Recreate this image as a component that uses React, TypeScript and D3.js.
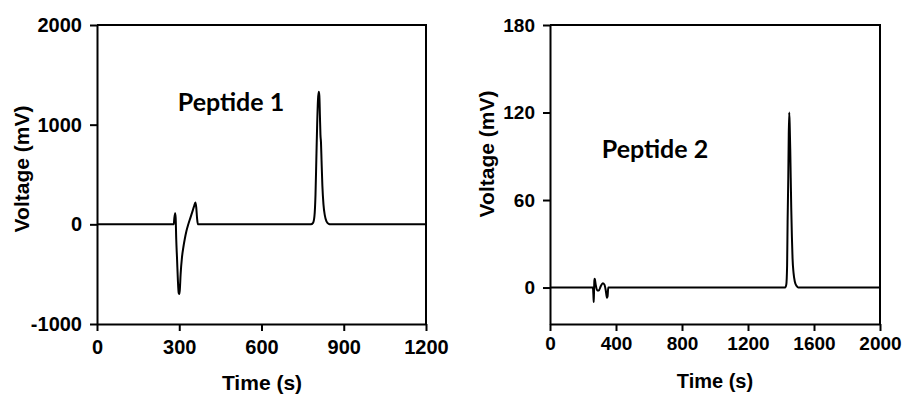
import React, { useRef, useEffect } from 'react';
import * as d3 from 'd3';

// Peptide 1 trace: [time (s), voltage (mV)]
const peptide1: [number, number][] = [
  [0, 0], [270, 0], [280, 0], [282, 60], [285, 110], [287, 60], [289, -150],
  [292, -350], [295, -560], [298, -690], [300, -700], [302, -660], [305, -500],
  [310, -330], [315, -230], [320, -150], [326, -70], [333, 0], [340, 60],
  [347, 120], [354, 180], [359, 220], [362, 170], [365, 60], [368, 0],
  [780, 0], [788, 15], [793, 80], [797, 300], [800, 650], [803, 1000],
  [806, 1250], [809, 1330], [811, 1290], [813, 1100], [815, 900], [817, 820],
  [819, 640], [822, 390], [826, 200], [831, 90], [837, 30], [845, 5], [852, 0],
  [1200, 0],
];

// Peptide 2 trace
const peptide2: [number, number][] = [
  [0, 0], [260, 0], [263, -5], [265, -10], [267, -2], [269, 5], [271, 6],
  [277, 2], [286, -2], [296, -2], [308, 1], [320, 3], [330, 2], [338, -2],
  [345, -7], [349, -6], [353, 0],
  [1425, 0], [1432, 2], [1437, 15], [1440, 45], [1444, 75], [1447, 105],
  [1450, 120], [1453, 110], [1456, 95], [1459, 75], [1462, 55], [1466, 35],
  [1470, 20], [1476, 10], [1484, 4], [1495, 1], [1505, 0], [2000, 0],
];

const xTicks1 = [0, 300, 600, 900, 1200];
const yTicks1 = [-1000, 0, 1000, 2000];
const xTicks2 = [0, 400, 800, 1200, 1600, 2000];
const yTicks2 = [0, 60, 120, 180];

const FONT = '"Liberation Sans", Arial, sans-serif';
const LABEL_FONT = 'Lato, "Open Sans", sans-serif';

type Panel = {
  data: [number, number][];
  xDomain: [number, number];
  yDomain: [number, number];
  xRange: [number, number];
  yRange: [number, number];
  xTicks: number[];
  yTicks: number[];
  title: string;
  titlePos: [number, number];
  titleSize: number;
  yLabelPos: [number, number];
  xLabelPos: [number, number];
  xLabelSize: number;
  xPad: number;
  fontSize: number;
};

const panels: Panel[] = [
  {
    data: peptide1,
    xDomain: [0, 1200], yDomain: [-1000, 2000],
    xRange: [97, 426], yRange: [324, 25],
    xTicks: xTicks1, yTicks: yTicks1,
    title: 'Peptide 1', titlePos: [231, 111], titleSize: 25,
    yLabelPos: [29, 169], xLabelPos: [262, 390], xLabelSize: 21,
    xPad: 9, fontSize: 20,
  },
  {
    data: peptide2,
    xDomain: [0, 2000], yDomain: [-25, 180],
    xRange: [550, 880], yRange: [324, 25],
    xTicks: xTicks2, yTicks: yTicks2,
    title: 'Peptide 2', titlePos: [655, 158], titleSize: 25,
    yLabelPos: [494, 154], xLabelPos: [715, 388], xLabelSize: 20,
    xPad: 6, fontSize: 19,
  },
];

const fmt = (d: d3.NumberValue) => String(d);

const App = () => {
  const svgRef = useRef<SVGSVGElement>(null);

  useEffect(() => {
    const svg = d3.select(svgRef.current);
    svg.selectAll('*').remove();

    panels.forEach(p => {
      const x = d3.scaleLinear().domain(p.xDomain).range(p.xRange);
      const y = d3.scaleLinear().domain(p.yDomain).range(p.yRange);
      const g = svg.append('g');

      // frame top and right
      g.append('path')
        .attr('d', `M${p.xRange[0]},${p.yRange[1]}H${p.xRange[1]}V${p.yRange[0]}`)
        .attr('fill', 'none')
        .attr('stroke', '#000')
        .attr('stroke-width', 2);

      const yAxis = g.append('g')
        .attr('transform', `translate(${p.xRange[0]},0)`)
        .call(d3.axisLeft(y).tickValues(p.yTicks).tickFormat(fmt)
          .tickSize(7).tickPadding(8).tickSizeOuter(0));
      const xAxis = g.append('g')
        .attr('transform', `translate(0,${p.yRange[0]})`)
        .call(d3.axisBottom(x).tickValues(p.xTicks).tickFormat(fmt)
          .tickSize(7).tickPadding(p.xPad).tickSizeOuter(0));

      [yAxis, xAxis].forEach(a => {
        a.attr('font-family', null).attr('font-size', null);
        a.selectAll('path, line').attr('stroke', '#000').attr('stroke-width', 2);
        a.selectAll('text')
          .attr('fill', '#000')
          .style('font-family', FONT)
          .style('font-size', `${p.fontSize}px`)
          .style('font-weight', 'bold');
      });

      const line = d3.line<[number, number]>()
        .x(d => x(d[0]))
        .y(d => y(d[1]))
        .curve(d3.curveMonotoneX);

      g.append('path')
        .datum(p.data)
        .attr('d', line)
        .attr('fill', 'none')
        .attr('stroke', '#000')
        .attr('stroke-width', 2)
        .attr('stroke-linejoin', 'round');

      g.append('text')
        .attr('x', p.titlePos[0])
        .attr('y', p.titlePos[1])
        .attr('text-anchor', 'middle')
        .style('font-family', LABEL_FONT)
        .style('font-weight', 'bold')
        .style('font-size', `${p.titleSize}px`)
        .text(p.title);

      g.append('text')
        .attr('transform', `translate(${p.yLabelPos[0]},${p.yLabelPos[1]}) rotate(-90)`)
        .attr('text-anchor', 'middle')
        .style('font-family', FONT)
        .style('font-weight', 'bold')
        .style('font-size', '21px')
        .text('Voltage (mV)');

      g.append('text')
        .attr('x', p.xLabelPos[0])
        .attr('y', p.xLabelPos[1])
        .attr('text-anchor', 'middle')
        .style('font-family', FONT)
        .style('font-weight', 'bold')
        .style('font-size', `${p.xLabelSize}px`)
        .text('Time (s)');
    });
  }, []);

  return (
    <svg ref={svgRef} width={906} height={396}
      style={{ position: 'absolute', left: 0, top: 0, background: '#fff' }} />
  );
};

export default App;
